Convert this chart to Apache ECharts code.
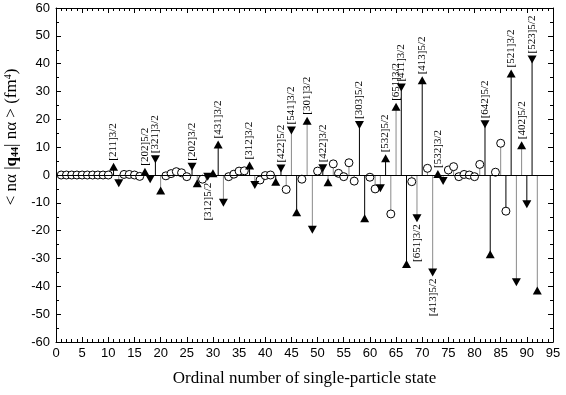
<!DOCTYPE html>
<html lang="en">
<head>
    <meta charset="utf-8">
    <title>q44</title>
    <script src="https://cdn.jsdelivr.net/npm/echarts@6/dist/echarts.min.js"></script>
</head>
<body style="margin:0">
<div id="main" style="width: 566px;height:395px;"></div>

<script type="text/javascript">
    // ordinal number of each single-particle state, 1..92
    var ordinals = [];
    for (var i = 1; i <= 92; i++) ordinals.push(i);

    // matrix element <n a|q44|n a> (fm^4)
    var values = [
        0, 0, 0, 0, 0, 0, 0, 0, 0, 0,
        3, -3, 0.2, 0.2, 0, -0.5, 1.2, -1.5, 5.7, -5.6,
        -0.3, 0.5, 1.2, 0.8, -0.6, 3, -3, -1.5, -0.6, 0.6,
        11, -10, -0.6, 0.3, 1.4, 1.5, 3.4, -3.6, -1.8, -0.2,
        0, -2.4, 2.3, -5.2, 16, -13.4, -1.5, 19.5, -19.7, 1.4,
        2.4, -2.6, 4, 0.6, -0.6, 4.4, -2.2, 18, -15.5, -0.8,
        -5, -4.8, 6, -14, 24.5, 31.4, -32, -2.4, -15.5, 34,
        2.4, -35, 0.4, -2.2, 1.8, 3, -0.6, 0.2, 0, -0.6,
        3.8, 18.2, -28.5, 1, 11.4, -13, 36.5, -38.5, 10.7, -10.5,
        41.5, -41.5
    ];

    // marker type per state (others are open circles)
    var upTriangles = [11, 17, 20, 27, 30, 31, 37, 42, 46, 48, 52, 59, 63, 65, 67, 70, 73, 83, 87, 89, 92];
    var downTriangles = [12, 18, 19, 26, 29, 32, 38, 43, 45, 49, 51, 58, 62, 66, 69, 72, 74, 82, 88, 90, 91];

    // states drawn with a black stem (others grey)
    var blackStems = [11, 17, 19, 26, 29, 30, 31, 37, 42, 43, 46, 51, 58, 59, 63, 66, 67, 70, 73, 82, 83, 86, 87, 90, 91];

    var stateLabels = {
        11: '[211]3/2', 17: '[202]5/2', 19: '[321]3/2', 26: '[202]3/2', 29: '[312]5/2',
        31: '[431]3/2', 37: '[312]3/2', 43: '[422]5/2', 45: '[541]3/2', 48: '[301]3/2',
        51: '[422]3/2', 58: '[303]5/2', 63: '[532]5/2', 65: '[651]3/2', 66: '[411]3/2',
        69: '[651]3/2', 70: '[413]5/2', 72: '[413]5/2', 73: '[532]3/2', 82: '[642]5/2',
        87: '[521]3/2', 89: '[402]5/2', 91: '[523]5/2'
    };

    var xTicks = {min: 0, max: 95, step: 5};
    var yTicks = {min: -60, max: 60, step: 10};

    var serif = 'Liberation Serif';
    var sans = 'Liberation Sans';

    var stems = [], circles = [], ups = [], downs = [];
    ordinals.forEach(function (n, k) {
        var v = values[k];
        stems.push([n, v, blackStems.indexOf(n) >= 0 ? 1 : 0]);
        var item = {value: [n, v]};
        if (stateLabels[n]) {
            item.label = {
                show: true,
                formatter: stateLabels[n],
                position: v >= 0 ? 'top' : 'bottom',
                align: v >= 0 ? 'left' : 'right',
                verticalAlign: 'middle',
                rotate: 90,
                distance: 2,
                fontFamily: serif,
                fontSize: 11,
                color: '#000'
            };
        }
        if (upTriangles.indexOf(n) >= 0) ups.push(item);
        else if (downTriangles.indexOf(n) >= 0) downs.push(item);
        else circles.push(item);
    });

    var tickStyle = {lineStyle: {color: '#000', width: 1}};

    function xAxis(pos, withLabels) {
        return {
            type: 'value', position: pos,
            min: xTicks.min, max: xTicks.max, interval: xTicks.step,
            axisLine: {onZero: false, lineStyle: {color: '#000', width: 1}},
            axisTick: {inside: true, length: 5, lineStyle: tickStyle.lineStyle},
            minorTick: {show: true, splitNumber: 5, length: 3, lineStyle: tickStyle.lineStyle},
            axisLabel: {show: withLabels, color: '#000', fontFamily: sans, fontSize: 13, margin: 5},
            splitLine: {show: false}
        };
    }

    function yAxis(pos, withLabels) {
        return {
            type: 'value', position: pos,
            min: yTicks.min, max: yTicks.max, interval: yTicks.step,
            axisLine: {onZero: false, lineStyle: {color: '#000', width: 1}},
            axisTick: {inside: true, length: 5, lineStyle: tickStyle.lineStyle},
            minorTick: {show: true, splitNumber: 2, length: 3, lineStyle: tickStyle.lineStyle},
            axisLabel: {show: withLabels, color: '#000', fontFamily: sans, fontSize: 13, margin: 6},
            splitLine: {show: false}
        };
    }

    var bottomX = xAxis('bottom', true);
    bottomX.name = 'Ordinal number of single-particle state';
    bottomX.nameLocation = 'middle';
    bottomX.nameGap = 28;
    bottomX.nameTextStyle = {fontFamily: serif, fontSize: 17, color: '#000'};

    var leftY = yAxis('left', true);
    leftY.name = '< nα |{b|q}{sub|44}| nα > (fm{sup|4})';
    leftY.nameLocation = 'middle';
    leftY.nameGap = 26;
    leftY.nameTextStyle = {
        fontFamily: serif, fontSize: 17, color: '#000',
        padding: [0, 0, 0, 76],
        rich: {
            b: {fontFamily: serif, fontSize: 17, fontWeight: 'bold', color: '#000'},
            sub: {fontFamily: serif, fontSize: 10, fontWeight: 'bold', color: '#000', verticalAlign: 'bottom'},
            sup: {fontFamily: serif, fontSize: 10, color: '#000', verticalAlign: 'top'}
        }
    };

    var myChart = echarts.init(document.getElementById('main'));

    var option = {
        animation: false,
        backgroundColor: '#fff',
        grid: {left: 56, right: 13, top: 8, bottom: 53, containLabel: false, outerBoundsMode: 'none'},
        xAxis: [bottomX, xAxis('top', false)],
        yAxis: [leftY, yAxis('right', false)],
        series: [
            {
                type: 'custom',
                z: 1,
                encode: {x: 0, y: 1},
                data: stems,
                renderItem: function (params, api) {
                    var x = api.value(0), y = api.value(1);
                    var p0 = api.coord([x, 0]);
                    var p1 = api.coord([x, y]);
                    return {
                        type: 'line',
                        shape: {x1: p0[0], y1: p0[1], x2: p1[0], y2: p1[1]},
                        style: {stroke: api.value(2) ? '#000' : '#8a8a8a', lineWidth: 1}
                    };
                },
                markLine: {
                    silent: true,
                    symbol: 'none',
                    label: {show: false},
                    lineStyle: {color: '#000', width: 1, type: 'solid'},
                    data: [{yAxis: 0}]
                }
            },
            {
                type: 'scatter',
                symbol: 'circle',
                symbolSize: 8,
                itemStyle: {color: '#fff', borderColor: '#000', borderWidth: 1, opacity: 1},
                data: circles
            },
            {
                type: 'scatter',
                symbol: 'triangle',
                symbolSize: [9, 8],
                itemStyle: {color: '#000', opacity: 1},
                data: ups
            },
            {
                type: 'scatter',
                symbol: 'triangle',
                symbolRotate: 180,
                symbolSize: [9, 8],
                itemStyle: {color: '#000', opacity: 1},
                data: downs
            }
        ]
    };

    myChart.setOption(option);
</script>

</body>
</html>
